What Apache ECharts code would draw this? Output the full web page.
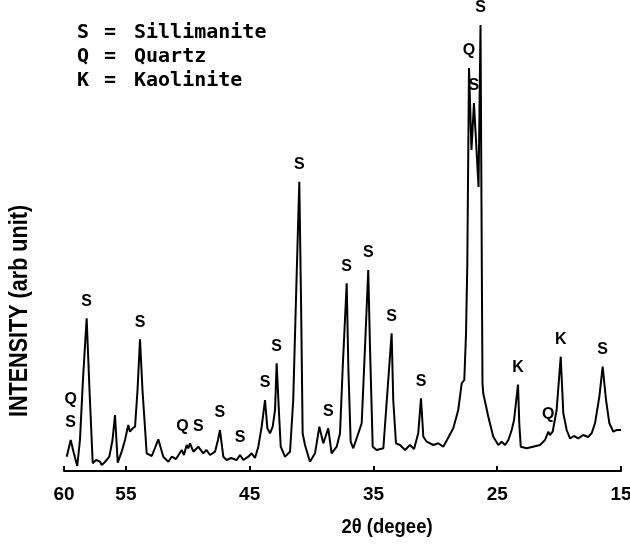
<!DOCTYPE html>
<html>
<head>
<meta charset="utf-8">
<script src="https://cdn.jsdelivr.net/npm/echarts@6/dist/echarts.min.js"></script>
<style>
  html, body { margin: 0; padding: 0; background: #fff; overflow: hidden; }
  #chart { width: 630px; height: 554px; }
</style>
</head>
<body>
<div id="chart"></div>
<script>
// X-ray diffraction trace: diffraction angle 2θ (degrees) and intensity (arbitrary units)
const twoTheta = [
  59.78, 59.46, 59.23, 58.93, 58.71, 58.47, 58.17, 57.94, 57.68, 57.41,
  57.09, 56.95, 56.69, 56.34, 56.08, 55.88, 55.66, 55.34, 55.07, 54.81,
  54.67, 54.43, 54.26, 54.06, 53.86, 53.66, 53.32, 52.91, 52.65, 52.38,
  51.98, 51.57, 51.30, 50.95, 50.49, 50.31, 50.09, 49.96, 49.82, 49.55,
  49.15, 48.75, 48.49, 48.20, 47.80, 47.56, 47.40, 47.13, 46.86, 46.51,
  46.05, 45.78, 45.51, 45.11, 44.84, 44.57, 44.30, 44.03, 43.76, 43.57,
  43.36, 43.14, 42.95, 42.82, 42.63, 42.49, 42.15, 41.74, 41.48, 41.26,
  40.99, 40.85, 40.72, 40.53, 40.13, 39.72, 39.37, 39.05, 38.65, 38.38,
  37.97, 37.70, 37.48, 37.16, 37.03, 36.84, 36.63, 36.22, 35.95, 35.68,
  35.42, 35.28, 35.06, 34.74, 34.20, 33.88, 33.53, 33.40, 33.18, 32.85,
  32.45, 32.05, 31.72, 31.38, 31.16, 30.97, 30.70, 30.16, 29.76, 29.36,
  29.06, 28.55, 28.15, 27.87, 27.66, 27.52, 27.42, 27.28, 27.08, 26.88,
  26.51, 26.35, 26.23, 26.19, 26.13, 25.72, 25.32, 24.91, 24.64, 24.37,
  24.10, 23.83, 23.64, 23.32, 23.22, 23.10, 22.62, 22.11, 21.54, 21.14,
  20.87, 20.74, 20.52, 20.20, 19.87, 19.66, 19.39, 19.12, 18.80, 18.45,
  18.05, 17.67, 17.37, 17.10, 16.75, 16.48, 16.21, 15.94, 15.62, 15.35,
  15.00
];
const intensity = [
  14.3, 31, 19, 5, 31, 91, 152.7, 81, 7.7, 11,
  9.3, 6, 9, 14.3, 31, 56, 8.3, 19.3, 31, 46,
  39.3, 43, 44.3, 81, 131.7, 81, 17.7, 15, 23, 31.7,
  14.3, 9.3, 14.3, 12, 21, 16, 26, 22.7, 27.7, 19.3,
  24.3, 17.7, 21, 16, 19.3, 31, 41, 14.3, 11, 13,
  11, 16, 11, 14.3, 17.7, 13, 24.3, 44.3, 71, 42.7,
  37.7, 44.3, 61, 107.7, 57.7, 24.3, 14.3, 19.3, 71, 171,
  289.3, 171, 37.7, 26, 9.3, 17.7, 44.3, 27.7, 42.7, 17.7,
  24.3, 37.7, 104.3, 187.7, 104.3, 29.3, 22.7, 37.7, 47.7, 124.3,
  201, 124.3, 24.3, 21, 22.7, 77.7, 137.7, 71, 27.7, 26,
  21, 26, 22, 37.7, 72.7, 34.3, 29.3, 26, 27.7, 24.3,
  31, 42.7, 61, 87.7, 91, 137.7, 204.3, 403, 321, 368,
  284, 446, 171, 87.7, 77.7, 54.3, 34.3, 26, 29.3, 26,
  31, 41, 51, 86.5, 48, 24.3, 22.7, 24.3, 26, 31,
  39.3, 36, 39.3, 61, 114.3, 57.7, 41, 32.7, 35, 32.7,
  36, 34, 37.7, 47.7, 74.3, 104.3, 71, 47.7, 39.3, 41,
  41
];

// Identified reflections: angle of the peak and the phase letter(s) written above it
const peakAngles = [59.46, 58.17, 53.86, 49.82, 47.40, 45.78, 43.76, 42.82, 40.99, 38.65,
                    37.16, 35.42, 33.53, 31.16, 27.28, 26.88, 26.35, 23.32, 20.87, 19.87, 16.48];
const peakPhases = ['Q\nS', 'S', 'S', 'Q S', 'S', 'S', 'S', 'S', 'S', 'S',
                    'S', 'S', 'S', 'S', 'Q', 'S', 'S', 'K', 'Q', 'K', 'S'];

// Phase key
const phaseCodes = ['S', 'Q', 'K'];
const phaseNames = ['Sillimanite', 'Quartz', 'Kaolinite'];

// Labelled positions on the 2θ scale
const angleTicks = [60, 55, 45, 35, 25, 15];

const sans = "'Liberation Sans', Arial, sans-serif";
const mono = "'DejaVu Sans Mono', 'Liberation Mono', monospace";

const trace = twoTheta.map((a, i) => [a, intensity[i]]);
const peaks = peakAngles.map((a, i) => ({
  value: [a, intensity[twoTheta.indexOf(a)]],
  label: { formatter: peakPhases[i] }
}));

const keyGraphics = [];
phaseCodes.forEach((code, i) => {
  const y = 33 + i * 24;
  keyGraphics.push(
    { type: 'text', x: 77, y: y, style: { text: code, font: 'bold 20px ' + mono, fill: '#000', verticalAlign: 'middle' } },
    { type: 'text', x: 104, y: y, style: { text: '=', font: 'bold 20px ' + mono, fill: '#000', verticalAlign: 'middle' } },
    { type: 'text', x: 134, y: y, style: { text: phaseNames[i], font: 'bold 20px ' + mono, fill: '#000', verticalAlign: 'middle' } }
  );
});

const chart = echarts.init(document.getElementById('chart'), null, { renderer: 'canvas' });
chart.setOption({
  backgroundColor: '#fff',
  animation: false,
  grid: { left: 64, right: 9, top: 0, bottom: 83, outerBoundsMode: 'none', containLabel: false },
  xAxis: {
    type: 'value',
    min: 15,
    max: 60,
    inverse: true,
    splitLine: { show: false },
    axisLine: { show: true, lineStyle: { color: '#000', width: 2 } },
    axisTick: { show: true, inside: true, length: 5, customValues: angleTicks, lineStyle: { color: '#000', width: 2 } },
    axisLabel: {
      customValues: angleTicks,
      margin: 14,
      color: '#000',
      fontSize: 19,
      fontWeight: 'bold',
      fontFamily: sans
    }
  },
  yAxis: {
    type: 'value',
    min: 0,
    max: 471,
    show: false
  },
  series: [
    {
      type: 'line',
      data: trace,
      symbol: 'none',
      lineStyle: { color: '#000', width: 2 },
      z: 2
    },
    {
      type: 'scatter',
      data: peaks,
      symbol: 'circle',
      symbolSize: 1,
      itemStyle: { color: 'rgba(0,0,0,0)', opacity: 1 },
      label: {
        show: true,
        position: 'top',
        distance: 5,
        color: '#000',
        opacity: 1,
        fontSize: 16,
        fontWeight: 'bold',
        fontFamily: sans,
        lineHeight: 23
      },
      z: 3
    }
  ],
  graphic: keyGraphics.concat([
    {
      type: 'text',
      x: 20,
      y: 311,
      rotation: Math.PI / 2,
      scaleX: 0.83,
      style: { text: 'INTENSITY (arb unit)', font: 'bold 26px ' + sans, fill: '#000', align: 'center', verticalAlign: 'middle' }
    },
    {
      type: 'text',
      x: 387,
      y: 527,
      scaleX: 0.88,
      style: { text: '2θ (degee)', font: 'bold 21px ' + sans, fill: '#000', align: 'center', verticalAlign: 'middle' }
    }
  ])
});
</script>
</body>
</html>
